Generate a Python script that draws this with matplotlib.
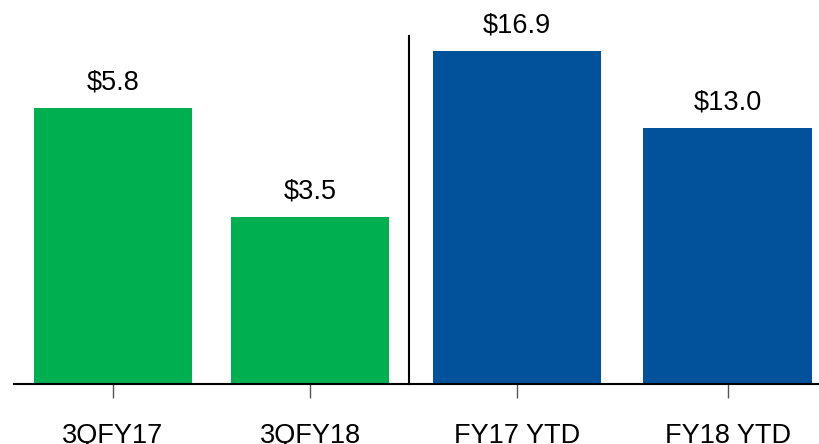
import matplotlib.pyplot as plt

plt.rcParams['font.family'] = ['Liberation Sans', 'DejaVu Sans']

# datos
trimestres = ['3QFY17', '3QFY18']
valores_trim = [5.8, 3.5]
acumulados = ['FY17 YTD', 'FY18 YTD']
valores_acum = [16.9, 13.0]

verde = '#00B050'
azul = '#02529B'

fig = plt.figure(figsize=(8.2, 4.44), dpi=100)
ax1 = fig.add_axes([0.017, 0.135, 0.482, 0.784])
ax2 = fig.add_axes([0.499, 0.135, 0.501, 0.784])


def dibujar(ax, etiquetas, valores, color, ymax, xlim):
    pos = range(len(valores))
    barras = ax.bar(pos, valores, width=0.8, color=color)
    for b, v in zip(barras, valores):
        ax.annotate(f'${v:.1f}', (b.get_x() + b.get_width() / 2, v),
                    xytext=(0, 9), textcoords='offset points',
                    ha='center', va='bottom', fontsize=19.5)
    ax.set_xticks(list(pos))
    ax.set_xticklabels(etiquetas, fontsize=19.5)
    ax.set_xlim(*xlim)
    ax.set_ylim(0, ymax)
    ax.set_yticks([])
    for s in ['top', 'right', 'left']:
        ax.spines[s].set_visible(False)
    ax.spines['bottom'].set_linewidth(1.5)
    ax.tick_params(axis='x', length=10, width=1, color='#555555', pad=18)


dibujar(ax1, trimestres, valores_trim, verde, 7.31, (-0.5025, 1.5025))
dibujar(ax2, acumulados, valores_acum, azul, 17.66, (-0.513, 1.439))
ax2.spines['left'].set_visible(True)
ax2.spines['left'].set_linewidth(1.5)

fig.savefig('out.png', dpi=100)
